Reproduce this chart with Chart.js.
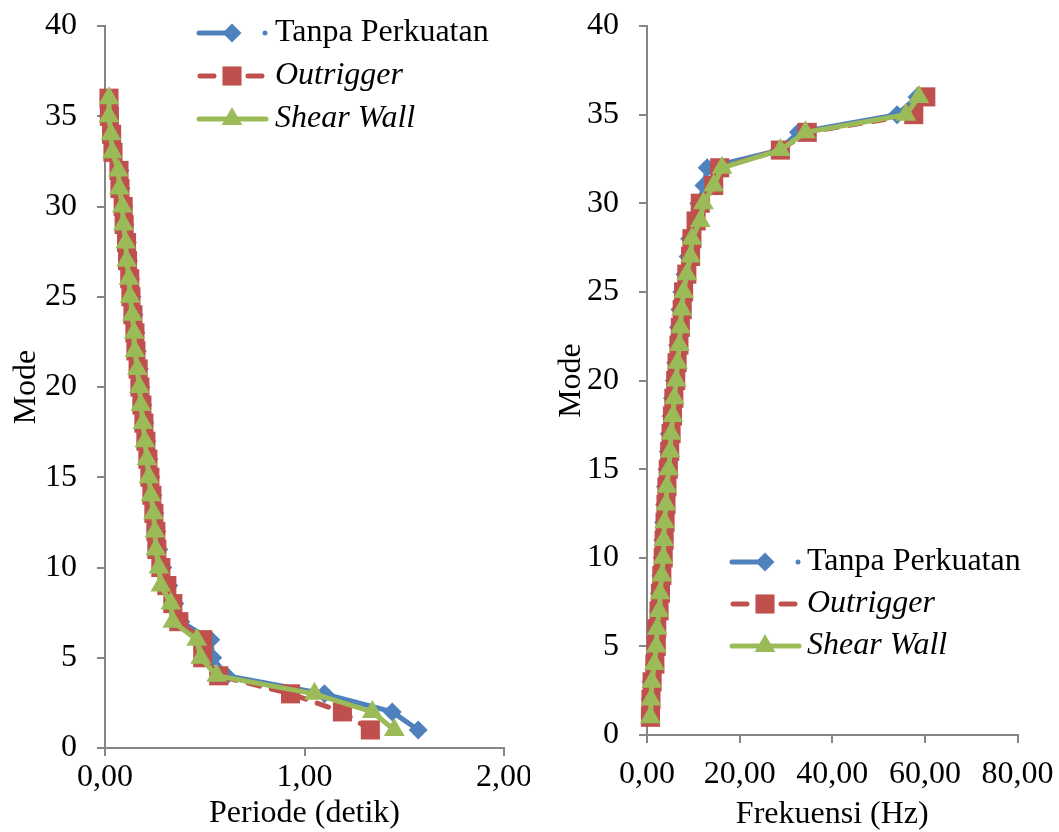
<!DOCTYPE html>
<html>
<head>
<meta charset="utf-8">
<script src="https://cdn.jsdelivr.net/npm/chart.js@4.4.1/dist/chart.umd.min.js"></script>
<style>
  html, body { margin: 0; padding: 0; background: #fff; overflow: hidden; }
  #wrap { position: relative; width: 1059px; height: 832px; overflow: hidden; }
  canvas { position: absolute; top: 2px; }
  #kiri { left: 0; }
  #kanan { left: 530px; }
</style>
</head>
<body>
<div id="wrap">
  <canvas id="kiri" width="530" height="832"></canvas>
  <canvas id="kanan" width="529" height="832"></canvas>
</div>
<script>
// data mode getar
var mode = [1,2,3,4,5,6,7,8,9,10,11,12,13,14,15,16,17,18,19,20,21,22,23,24,25,26,27,28,29,30,31,32,33,34,35,36];

var seriesLabels = ['Tanpa Perkuatan', 'Outrigger', 'Shear Wall'];

// periode (detik)
var periodeTanpa = [1.57, 1.44, 1.10, 0.61, 0.54, 0.53, 0.38, 0.35, 0.32, 0.29, 0.27, 0.26, 0.25, 0.24, 0.23, 0.22, 0.21, 0.20, 0.19, 0.18, 0.172, 0.162, 0.155, 0.145, 0.135, 0.128, 0.118, 0.112, 0.10, 0.095, 0.08, 0.075, 0.04, 0.035, 0.022, 0.02];
var periodeOutrigger = [1.33, 1.19, 0.93, 0.57, 0.49, 0.49, 0.37, 0.34, 0.31, 0.28, 0.26, 0.255, 0.245, 0.235, 0.225, 0.215, 0.205, 0.195, 0.185, 0.175, 0.166, 0.155, 0.15, 0.14, 0.13, 0.124, 0.113, 0.108, 0.096, 0.091, 0.075, 0.07, 0.04, 0.033, 0.022, 0.02];
var periodeShear = [1.45, 1.34, 1.05, 0.56, 0.48, 0.46, 0.34, 0.33, 0.28, 0.27, 0.255, 0.25, 0.243, 0.23, 0.22, 0.21, 0.20, 0.19, 0.18, 0.172, 0.162, 0.15, 0.146, 0.137, 0.126, 0.12, 0.109, 0.104, 0.092, 0.087, 0.072, 0.067, 0.037, 0.03, 0.02, 0.02];

// frekuensi (Hz)
var frekTanpa = [0.65, 0.7, 0.9, 1.6, 1.85, 1.9, 2.5, 2.7, 3.0, 3.3, 3.4, 3.6, 3.8, 4.0, 4.3, 4.6, 4.8, 5.2, 5.5, 5.9, 6.2, 6.6, 6.8, 7.1, 7.5, 8.2, 8.9, 9.2, 10.6, 11.2, 12.3, 13.0, 28.5, 32.7, 54.0, 58.3];
var frekOutrigger = [0.75, 0.85, 1.1, 1.7, 2.0, 2.1, 2.6, 2.9, 3.2, 3.5, 3.7, 3.9, 4.1, 4.3, 4.6, 4.9, 5.2, 5.5, 5.8, 6.2, 6.5, 6.9, 7.2, 7.6, 7.9, 8.6, 9.4, 9.7, 10.6, 11.5, 14.4, 15.7, 28.8, 34.6, 57.6, 60.2];
var frekShear = [0.7, 0.85, 1.05, 1.6, 2.0, 2.2, 2.6, 2.8, 3.2, 3.5, 3.6, 3.8, 4.1, 4.3, 4.7, 5.0, 5.2, 5.6, 5.9, 6.3, 6.6, 7.0, 7.2, 7.5, 7.9, 8.6, 9.4, 9.7, 11.5, 12.2, 14.4, 16.2, 28.8, 34.2, 55.9, 58.7];

var biru = '#4F81BD', merah = '#C0504D', hijau = '#9BBB59';
var abuAbu = '#868686';
var hurufSerif = '"Liberation Serif", "Times New Roman", serif';

function titik(xs) {
    return mode.map(function(m, i) { return { x: xs[i], y: m }; });
}

function koma(v) {
    return Number(v).toFixed(2).replace('.', ',');
}

// gambar marker sendiri untuk legenda
function gambarMarker(ctx, gaya, x, y, r, warna) {
    ctx.fillStyle = warna;
    ctx.beginPath();
    if (gaya === 'rectRot') {
        ctx.moveTo(x, y - r); ctx.lineTo(x + r, y); ctx.lineTo(x, y + r); ctx.lineTo(x - r, y);
    } else if (gaya === 'rect') {
        var s = r * Math.SQRT1_2;
        ctx.rect(x - s, y - s, 2 * s, 2 * s);
    } else {
        var h = r * Math.sqrt(3) / 2;
        ctx.moveTo(x, y - r); ctx.lineTo(x + h, y + r / 2); ctx.lineTo(x - h, y + r / 2);
    }
    ctx.closePath();
    ctx.fill();
}

// legenda gaya Excel (garis + marker)
var legendaExcel = {
    id: 'legendaExcel',
    afterDraw: function(chart, args, opts) {
        var ctx = chart.ctx;
        var sets = chart.data.datasets;
        ctx.save();
        for (var i = 0; i < sets.length; i++) {
            var ds = sets[i];
            var y = opts.y + i * opts.gap;
            var mx = opts.x;
            ctx.strokeStyle = ds.borderColor;
            ctx.lineWidth = ds.borderWidth;
            ctx.lineCap = 'round';
            ctx.setLineDash([]);
            ctx.beginPath();
            if (ds.gayaLegenda === 'titik') {
                ctx.moveTo(mx - 33, y); ctx.lineTo(mx, y);
            } else if (ds.gayaLegenda === 'putus') {
                ctx.moveTo(mx - 32, y); ctx.lineTo(mx - 18, y);
                ctx.moveTo(mx + 16, y); ctx.lineTo(mx + 30, y);
            } else {
                ctx.moveTo(mx - 33, y); ctx.lineTo(mx + 34, y);
            }
            ctx.stroke();
            gambarMarker(ctx, ds.pointStyle, mx, y, ds.pointRadius, ds.pointBackgroundColor);
            if (ds.gayaLegenda === 'titik') {
                ctx.beginPath();
                ctx.arc(mx + 33, y, 2.5, 0, Math.PI * 2);
                ctx.fill();
            }
            ctx.fillStyle = '#000';
            ctx.textBaseline = 'middle';
            ctx.textAlign = 'left';
            ctx.font = (ds.miring ? 'italic ' : '') + '32px ' + hurufSerif;
            ctx.fillText(ds.label, mx + opts.teksDx, y);
        }
        ctx.restore();
    }
};

function buatDatasets(xsBiru, xsMerah, xsHijau) {
    return [{
        label: seriesLabels[0],
        data: titik(xsBiru),
        borderColor: biru, backgroundColor: biru,
        pointBackgroundColor: biru, pointBorderColor: biru,
        borderWidth: 5, pointStyle: 'rectRot', pointRadius: 9.5, pointBorderWidth: 0,
        showLine: true, order: 3, clip: false, gayaLegenda: 'titik', miring: false
    }, {
        label: seriesLabels[1],
        data: titik(xsMerah),
        borderColor: merah, backgroundColor: merah,
        pointBackgroundColor: merah, pointBorderColor: merah,
        borderWidth: 5, borderDash: [12, 12], borderCapStyle: 'round',
        pointStyle: 'rect', pointRadius: 13.5, pointBorderWidth: 0,
        showLine: true, order: 2, clip: false, gayaLegenda: 'putus', miring: true
    }, {
        label: seriesLabels[2],
        data: titik(xsHijau),
        borderColor: hijau, backgroundColor: hijau,
        pointBackgroundColor: hijau, pointBorderColor: hijau,
        borderWidth: 5, pointStyle: 'triangle', pointRadius: 12, pointBorderWidth: 0,
        showLine: true, order: 1, clip: false, gayaLegenda: 'penuh', miring: true
    }];
}

// lebar sumbu dikunci, padding label bawaan dibuang supaya area plot pas
function opsiSumbuY(lebar, padJudul) {
    return {
        type: 'linear', min: 0, max: 40,
        afterFit: function(scale) {
            scale.width = lebar;
            scale.paddingTop = 0;
            scale.paddingBottom = 0;
        },
        ticks: { stepSize: 5, color: '#000', padding: 20, font: { family: hurufSerif, size: 32 } },
        grid: { drawOnChartArea: false, drawTicks: true, tickLength: 8, color: abuAbu, lineWidth: 2 },
        border: { color: abuAbu, width: 2 },
        title: { display: true, text: 'Mode', color: '#000', font: { family: hurufSerif, size: 32 }, padding: { top: padJudul, bottom: 0 } }
    };
}

function opsiSumbuX(maks, langkah, tinggi, padTick, teks, padJudul) {
    return {
        type: 'linear', min: 0, max: maks,
        afterFit: function(scale) {
            scale.height = tinggi;
            scale.paddingLeft = 0;
            scale.paddingRight = 0;
        },
        ticks: { stepSize: langkah, color: '#000', padding: padTick, maxRotation: 0, font: { family: hurufSerif, size: 32 }, callback: koma },
        grid: { drawOnChartArea: false, drawTicks: true, tickLength: 8, color: abuAbu, lineWidth: 2 },
        border: { color: abuAbu, width: 2 },
        title: { display: true, text: teks, color: '#000', font: { family: hurufSerif, size: 32 }, padding: { top: 0, bottom: padJudul } }
    };
}

var chartKiri = new Chart(document.getElementById('kiri'), {
    type: 'scatter',
    data: { datasets: buatDatasets(periodeTanpa, periodeOutrigger, periodeShear) },
    options: {
        responsive: false,
        animation: false,
        devicePixelRatio: 1,
        layout: { padding: { left: 0, right: 26, top: 24, bottom: 0 } },
        scales: {
            x: opsiSumbuX(2, 1, 86, 2, 'Periode (detik)', 1),
            y: opsiSumbuY(105, 7)
        },
        plugins: {
            legend: { display: false },
            tooltip: { enabled: false },
            legendaExcel: { x: 232, y: 31, gap: 43, teksDx: 43 }
        }
    },
    plugins: [legendaExcel]
});

var chartKanan = new Chart(document.getElementById('kanan'), {
    type: 'scatter',
    data: { datasets: buatDatasets(frekTanpa, frekOutrigger, frekShear) },
    options: {
        responsive: false,
        animation: false,
        devicePixelRatio: 1,
        layout: { padding: { left: 0, right: 41.5, top: 24, bottom: 0 } },
        scales: {
            x: opsiSumbuX(80, 20, 99, 12, 'Frekuensi (Hz)', 0),
            y: opsiSumbuY(117, 22)
        },
        plugins: {
            legend: { display: false },
            tooltip: { enabled: false },
            legendaExcel: { x: 235, y: 560, gap: 42, teksDx: 42 }
        }
    },
    plugins: [legendaExcel]
});
</script>
</body>
</html>
